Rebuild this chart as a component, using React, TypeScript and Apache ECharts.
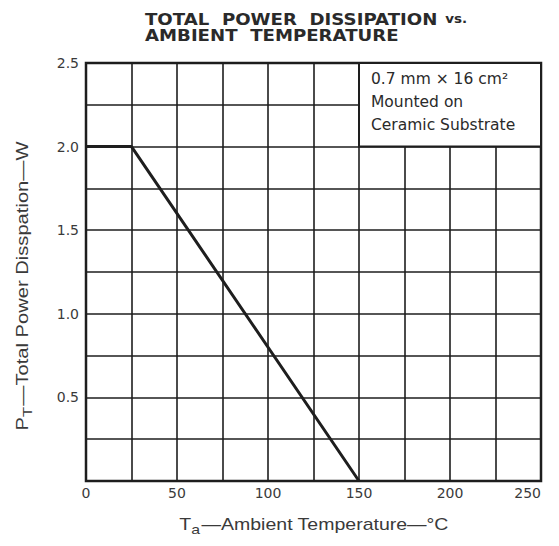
import React, { useEffect, useRef } from "react";
import * as echarts from "echarts";

const titleMain = ["TOTAL  POWER  DISSIPATION", "AMBIENT  TEMPERATURE"];
const titleVs = "vs.";
const xTitle = ["T", "a", "—Ambient Temperature—°C"];
const yTitle = ["P", "T", "—Total Power Disspation—W"];
const curveTemps = [0, 25, 150];
const curvePower = [2.0, 2.0, 0];
const xMin = 0;
const xMax = 250;
const xStep = 25;
const yMin = 0;
const yMax = 2.5;
const yStep = 0.25;
const boxRange = { x: [150, 250], y: [2.0, 2.5] };
const boxLines = ["0.7 mm × 16 cm²", "Mounted on", "Ceramic Substrate"];

export default function App() {
  const ref = useRef<HTMLDivElement>(null);
  useEffect(() => {
    if (!ref.current) return;
    const chart = echarts.init(ref.current, null, { renderer: "svg" });
    const ink = "#1e1e1e";
    const labelColor = "#3a3a3a";
    chart.setOption({
      animation: false,
      backgroundColor: "#ffffff",
      graphic: [
        {
          type: "text",
          x: 145,
          y: 11,
          scaleX: 1.17,
          style: {
            text: `{t|${titleMain[0]}}  {v|${titleVs}}\n{t|${titleMain[1]}}`,
            align: "left",
            verticalAlign: "top",
            rich: {
              t: { fontFamily: "DejaVu Sans", fontWeight: "bold", fontSize: 15.5, fill: "#2a2a2a", lineHeight: 16 },
              v: { fontFamily: "DejaVu Sans", fontWeight: "bold", fontSize: 11.5, fill: "#2a2a2a", lineHeight: 16 },
            },
          },
        },
        {
          type: "text",
          x: 314,
          y: 525,
          scaleX: 1.22,
          style: {
            text: `{a|${xTitle[0]}}{s|${xTitle[1]}}{a|${xTitle[2]}}`,
            align: "center",
            verticalAlign: "middle",
            rich: {
              a: { fontFamily: "Liberation Sans", fontSize: 16, fill: labelColor, lineHeight: 20 },
              s: { fontFamily: "Liberation Sans", fontSize: 13, fill: labelColor, lineHeight: 20, padding: [9, 1, 0, 0] },
            },
          },
        },
        {
          type: "text",
          x: 23,
          y: 286,
          rotation: Math.PI / 2,
          scaleX: 1.26,
          style: {
            text: `{a|${yTitle[0]}}{s|${yTitle[1]}}{a|${yTitle[2]}}`,
            align: "center",
            verticalAlign: "middle",
            rich: {
              a: { fontFamily: "Liberation Sans", fontSize: 16, fill: labelColor, lineHeight: 20 },
              s: { fontFamily: "Liberation Sans", fontSize: 13, fill: labelColor, lineHeight: 20, padding: [9, 1, 0, 0] },
            },
          },
        },
      ],
      grid: {
        left: 86,
        right: 18,
        top: 63,
        bottom: 65,
        show: true,
        borderColor: ink,
        borderWidth: 2.5,
        backgroundColor: "transparent",
      },
      xAxis: {
        type: "value",
        min: xMin,
        max: xMax,
        interval: xStep,
        axisLine: { show: false },
        axisTick: { show: false },
        splitLine: { show: true, lineStyle: { color: ink, width: 1.6 } },
        axisLabel: {
          margin: 5,
          fontFamily: "DejaVu Sans",
          fontSize: 14,
          color: labelColor,
          alignMaxLabel: "right",
          formatter: (v: number) => (v % 50 === 0 ? String(v) : ""),
        },
      },
      yAxis: {
        type: "value",
        min: yMin,
        max: yMax,
        interval: yStep,
        axisLine: { show: false },
        axisTick: { show: false },
        splitLine: { show: true, lineStyle: { color: ink, width: 1.6 } },
        axisLabel: {
          margin: 7,
          fontFamily: "DejaVu Sans",
          fontSize: 14,
          color: labelColor,
          formatter: (v: number) =>
            v !== 0 && Math.abs((v * 2) % 1) < 1e-6 ? v.toFixed(1) : "",
        },
      },
      series: [
        {
          type: "line",
          data: curveTemps.map((t, i) => [t, curvePower[i]]),
          symbol: "none",
          lineStyle: { color: ink, width: 3 },
          z: 5,
          markArea: {
            silent: true,
            itemStyle: { color: "#ffffff", borderColor: ink, borderWidth: 2 },
            label: {
              show: true,
              position: "insideTopLeft",
              distance: 0,
              padding: [5, 0, 0, 13],
              fontFamily: "DejaVu Sans",
              fontSize: 15.5,
              lineHeight: 23,
              color: "#2a2a2a",
              formatter: boxLines.join("\n"),
            },
            data: [
              [
                { coord: [boxRange.x[0], boxRange.y[1]] },
                { coord: [boxRange.x[1], boxRange.y[0]] },
              ],
            ],
          },
        },
      ],
    });
    return () => chart.dispose();
  }, []);
  return (
    <div
      ref={ref}
      style={{ position: "absolute", left: 0, top: 0, width: 559, height: 546 }}
    />
  );
}
